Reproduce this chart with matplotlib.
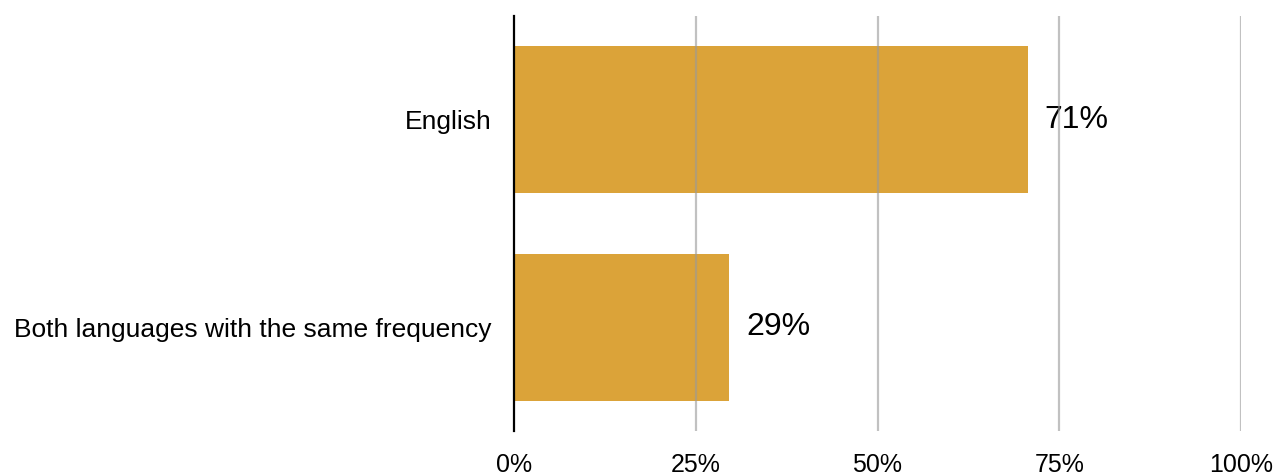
import matplotlib
matplotlib.use("Agg")
import matplotlib.pyplot as plt

plt.rcParams['font.family'] = ['Liberation Sans', 'DejaVu Sans']

categories = ["English", "Both languages with the same frequency"]
values = [70.7, 29.6]
value_labels = ["71%", "29%"]
ticks = [0, 25, 50, 75, 100]
tick_labels = ["0%", "25%", "50%", "75%", "100%"]

fig = plt.figure(figsize=(12.74, 4.75), dpi=100)
ax = fig.add_axes([0.4035, 0.0926, 0.5706, 0.8737])

ypos = list(range(len(categories)))
ax.barh(ypos, values, height=0.71, color="#dba339", zorder=1)
ax.set_ylim(1.5, -0.5)
ax.set_xlim(0, 100)

ax.set_yticks(ypos)
ax.set_yticklabels(categories, fontsize=19)
ax.set_xticks(ticks)
ax.set_xticklabels(tick_labels, fontsize=18)
ax.tick_params(axis="y", length=0, pad=16)
ax.tick_params(axis="x", length=0, pad=16)

# gridlines on top of the bars, semi transparent
for t in ticks[1:]:
    ax.axvline(t, color="#999999", alpha=0.6, lw=1.6, zorder=2)

for s in ["top", "right", "bottom"]:
    ax.spines[s].set_visible(False)
ax.spines["left"].set_linewidth(1.6)
ax.spines["left"].set_color("black")
ax.spines["left"].set_zorder(3)

for y, v, lab in zip(ypos, values, value_labels):
    ax.annotate(lab, (v, y), xytext=(12, 0), textcoords="offset points",
                va="center", ha="left", fontsize=23, zorder=1.5)

fig.savefig("out.png", dpi=100)
